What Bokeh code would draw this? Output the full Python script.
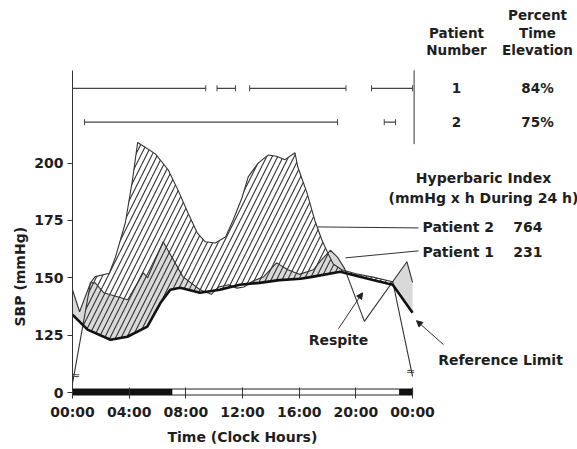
import numpy as np
from bokeh.plotting import figure
from bokeh.models import Range1d, FixedTicker, Arrow, NormalHead, Title
from bokeh.core.properties import value
from bokeh.embed import file_html
from bokeh.resources import INLINE

# ---------------- data ----------------
# Reference limit (upper limit of normal SBP), clock hours -> mmHg
ref_hours = [0, 1.06, 2.68, 3.87, 5.28, 6.2, 6.9, 7.6, 9.0, 10.4, 11.8, 13.2, 14.6,
             16.1, 16.9, 18.9, 21.2, 22.6, 24]
ref_sbp = [133.9, 127.4, 123, 124.3, 128.7, 139, 144.8, 145.7, 143.5, 144.8, 147,
           147.8, 149, 149.6, 150.4, 152.6, 149, 147, 134.8]

# Patient 1
p1_hours = [0, 0.5, 1.27, 1.6, 2.2, 3.9, 5.0, 5.3, 6.4, 7.8, 9.0, 9.8, 10.3, 11.0,
            11.6, 12.1, 12.7, 13.5, 14.4, 15.2, 16.0, 17.0, 17.6, 18.2, 18.7, 19.2,
            20.6, 23.6, 24]
p1_sbp = [144.8, 135.2, 147.8, 147.8, 143.5, 140.4, 152.2, 150, 165.7, 150.4, 144.8,
          142.8, 146, 147, 145.5, 146, 148.5, 150.5, 156.5, 153.5, 151.5, 153.5, 158,
          162, 159, 154, 131, 157, 148]

# Patient 2
p2_hours = [0, 1.27, 1.6, 2.6, 3.03, 3.73, 4.23, 4.6, 5.85, 6.76, 7.46, 8.17, 8.8,
            9.37, 10.07, 10.8, 11.34, 11.97, 12.4, 13.1, 13.8, 14.4, 15.0, 15.7, 15.9,
            16.55, 17.1, 17.6, 18.0, 18.4, 19.0, 20.0, 21.2, 22.6, 24]
p2_sbp = [104, 147.8, 150.5, 152, 159, 174, 192.6, 209, 204, 197, 188, 178, 169.6,
          165.7, 165.2, 167.8, 175.2, 185, 194, 200, 203.5, 203, 201.5, 204.5, 198.3,
          187, 175, 166.5, 161, 156, 153.5, 151.8, 150.3, 148.3, 107]

# time above the reference limit (bars at top)
p1_elev_start = [0, 10.2, 12.5, 21.1]
p1_elev_end = [9.4, 11.5, 19.3, 24]
p2_elev_start = [0.85, 22.0]
p2_elev_end = [18.7, 22.8]
patient_numbers = ["1", "2"]
percent_time_elevation = ["84%", "75%"]
hyperbaric_index = ["764", "231"]
hbi_labels = ["Patient 2", "Patient 1"]

# activity bar (night = black)
night_start = [0, 23.1]
night_end = [7.0, 24]
day_start = [7.0]
day_end = [23.1]

hour_ticks = [0, 4, 8, 12, 16, 20, 24]
hour_tick_labels = ["00:00", "04:00", "08:00", "12:00", "16:00", "20:00", "00:00"]
sbp_ticks = [100, 125, 150, 175, 200]
sbp_tick_labels = ["0", "125", "150", "175", "200"]

# ---------------- figure ----------------
W, H = 577, 449
PXH = 14.17     # pixels per hour
PXV = 2.3       # pixels per mmHg
FNAME = "DejaVu Sans"
FONT = value(FNAME)
TXT = "#1e1e1e"

def hx(px):
    return (px - 72) / PXH

def vy(py):
    return 100 + (393 - py) / PXV

p = figure(width=W, height=H, output_backend="svg", toolbar_location=None,
           x_range=Range1d(0, (W - 72) / PXH), y_range=Range1d(vy(397), vy(0)),
           min_border_left=72, min_border_right=0, min_border_top=0,
           min_border_bottom=52)
p.outline_line_color = None
p.background_fill_color = "white"
p.border_fill_color = "white"
p.xgrid.visible = False
p.ygrid.visible = False

# y axis
ya = p.yaxis[0]
ya.bounds = (100, vy(70))
ya.ticker = FixedTicker(ticks=sbp_ticks)
ya.major_label_overrides = dict(zip(sbp_ticks, sbp_tick_labels))
ya.major_tick_out = 5
ya.major_tick_in = 0
ya.minor_tick_out = 0
ya.minor_tick_in = 0
ya.major_label_standoff = 4
ya.axis_line_color = "#333"
ya.major_tick_line_color = "#333"
ya.major_label_text_font = FNAME
ya.major_label_text_font_style = "bold"
ya.major_label_text_font_size = "14px"
ya.major_label_text_color = TXT

# x axis
xa = p.xaxis[0]
xa.bounds = (0, 24)
xa.ticker = FixedTicker(ticks=hour_ticks)
xa.major_label_overrides = dict(zip(hour_ticks, hour_tick_labels))
xa.axis_line_color = None
xa.major_tick_in = 9
xa.major_tick_out = 2
xa.minor_tick_in = 0
xa.minor_tick_out = 0
xa.major_tick_line_color = "#333"
xa.major_label_standoff = 5
xa.major_label_text_font = FNAME
xa.major_label_text_font_style = "bold"
xa.major_label_text_font_size = "14px"
xa.major_label_text_color = TXT

# axis titles as side titles (not clipped by the frame)
p.add_layout(Title(text="Time (Clock Hours)", align="left", offset=167 - 72,
                   standoff=9, text_font=FNAME, text_font_style="bold",
                   text_font_size="14px", text_color=TXT), "below")
p.add_layout(Title(text="SBP (mmHg)", align="left", offset=397 - 327,
                   standoff=8, text_font=FNAME, text_font_style="bold",
                   text_font_size="14px", text_color=TXT), "left")

# activity bar along x axis
bar_lo, bar_hi = vy(395.5), vy(389.5)
p.quad(left=day_start, right=day_end, bottom=bar_lo, top=bar_hi,
       fill_color="white", line_color="#222", line_width=1)
p.quad(left=night_start, right=night_end, bottom=bar_lo, top=bar_hi,
       fill_color="#111", line_color="#111", line_width=1)

# ---------------- excess areas ----------------
grid = np.union1d(np.linspace(0, 24, 4801), np.array(ref_hours + p1_hours + p2_hours))
ref_i = np.interp(grid, ref_hours, ref_sbp)
p1_i = np.interp(grid, p1_hours, p1_sbp)
p2_i = np.interp(grid, p2_hours, p2_sbp)

p.varea(x=grid, y1=ref_i, y2=np.maximum(p1_i, ref_i), fill_color="#d9d9d9")
p.varea(x=grid, y1=ref_i, y2=np.maximum(p2_i, ref_i), fill_alpha=0,
        hatch_pattern="/", hatch_scale=11, hatch_weight=1.1, hatch_color="#333")

p.line(p1_hours, p1_sbp, line_color="#333", line_width=1.1)
p.line(p2_hours, p2_sbp, line_color="#333", line_width=1.1)
p.line(ref_hours, ref_sbp, line_color="#111", line_width=2.6)

# scale-break marks on the off-scale ends of patient 2's curve
p.text(x=[hx(75), hx(410)], y=[vy(376), vy(372)], text=["≈", "≈"], text_align="center",
       text_baseline="middle", text_font=FONT, text_font_size="11px", text_color="#333")

# ---------------- top: time above limit ----------------
row_y = [vy(88), vy(122)]
for ys, st, en in [(row_y[0], p1_elev_start, p1_elev_end), (row_y[1], p2_elev_start, p2_elev_end)]:
    p.segment(x0=st, y0=[ys] * len(st), x1=en, y1=[ys] * len(st), line_color="#444", line_width=1.2)
    p.scatter(x=st + en, y=[ys] * (2 * len(st)), marker="dash", angle=np.pi / 2, size=6,
              line_color="#444", line_width=1)
p.segment(x0=[hx(413.6)], y0=[vy(144)], x1=[hx(413.6)], y1=[vy(70)], line_color="#333", line_width=1)

txt_kw = dict(text_font=FONT, text_font_style="bold", text_color=TXT,
              text_baseline="middle")
col_num_x = hx(456)
col_pct_x = hx(537)
p.text(x=[col_pct_x] * 3, y=[vy(15), vy(33), vy(50)],
       text=["Percent", "Time", "Elevation"], text_align="center", text_font_size="13.5px", **txt_kw)
p.text(x=[col_num_x] * 2, y=[vy(33), vy(50)], text=["Patient", "Number"],
       text_align="center", text_font_size="13.5px", **txt_kw)
p.text(x=[col_num_x] * 2, y=row_y, text=patient_numbers, text_align="center",
       text_font_size="13.5px", **txt_kw)
p.text(x=[col_pct_x] * 2, y=row_y, text=percent_time_elevation, text_align="center",
       text_font_size="13.5px", **txt_kw)

# hyperbaric index block
p.text(x=[hx(483), hx(483)], y=[vy(178), vy(198)],
       text=["Hyperbaric Index", "(mmHg x h During 24 h)"], text_align="center",
       text_font_size="14px", **txt_kw)
lab_y = [vy(227), vy(252)]
p.text(x=[hx(422)] * 2, y=lab_y, text=hbi_labels, text_align="left", text_font_size="14px", **txt_kw)
p.text(x=[hx(542)] * 2, y=lab_y, text=hyperbaric_index, text_align="right", text_font_size="14px", **txt_kw)

# leader lines
p.segment(x0=[hx(317), hx(345)], y0=[vy(227), vy(258)],
          x1=[hx(418), hx(418)], y1=[vy(228), vy(251)], line_color="#333", line_width=1)

# Respite / Reference Limit labels and arrows
p.text(x=[hx(338)], y=[vy(340)], text=["Respite"], text_align="center",
       text_font_size="14px", **txt_kw)
p.text(x=[hx(500)], y=[vy(360)], text=["Reference Limit"], text_align="center",
       text_font_size="14px", **txt_kw)
p.add_layout(Arrow(end=NormalHead(size=6, fill_color="#222", line_color="#222"),
                   x_start=hx(338), y_start=vy(329), x_end=hx(362), y_end=vy(293),
                   line_color="#333", line_width=1))
p.add_layout(Arrow(end=NormalHead(size=6, fill_color="#222", line_color="#222"),
                   x_start=hx(443), y_start=vy(345), x_end=hx(416), y_end=vy(321),
                   line_color="#333", line_width=1))

open("out.html", "w").write(file_html(p, INLINE))
